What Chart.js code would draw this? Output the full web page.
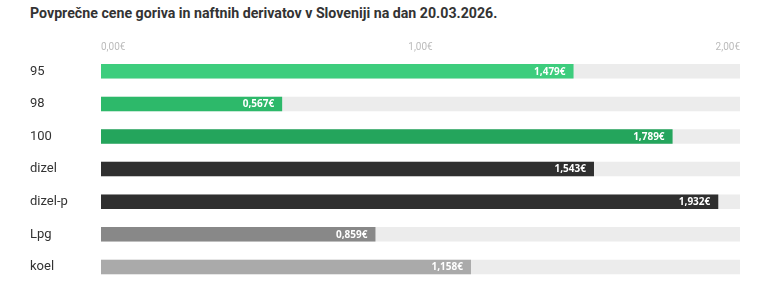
<!DOCTYPE html>
<html>
<head>
<meta charset="utf-8">
<script src="https://cdn.jsdelivr.net/npm/chart.js@4/dist/chart.umd.min.js"></script>
<style>
html,body{margin:0;padding:0;background:#fff;overflow:hidden;}
#wrap{position:relative;width:768px;height:282px;overflow:hidden;}
#title{position:absolute;left:30px;top:5px;font-family:Roboto,sans-serif;font-weight:bold;font-size:14.2px;color:#333;white-space:nowrap;}
#c{position:absolute;left:0;top:0;}
</style>
</head>
<body>
<div id="wrap">
<div id="title">Povprečne cene goriva in naftnih derivatov v Sloveniji na dan 20.03.2026.</div>
<canvas id="c" width="768" height="291"></canvas>
</div>
<script>
const categories = ["95", "98", "100", "dizel", "dizel-p", "Lpg", "koel"];
const prices = [1.479, 0.567, 1.789, 1.543, 1.932, 0.859, 1.158];
const barColors = ["#3dcd7d", "#2db96a", "#24a55c", "#2f2f2f", "#2f2f2f", "#888888", "#aaaaaa"];
const axisMax = 2;
const trackValues = categories.map(() => axisMax);
const tickValues = [0, 1, 2];

const fmt = v => v.toFixed(3).replace('.', ',') + '€';
const fmtTick = v => v.toFixed(2).replace('.', ',') + '€';

const valueLabels = {
  id: 'valueLabels',
  afterDatasetsDraw(chart) {
    const ctx = chart.ctx;
    const meta = chart.getDatasetMeta(0);
    ctx.save();
    ctx.font = 'bold 10px "Open Sans", sans-serif';
    ctx.fillStyle = '#ffffff';
    ctx.textAlign = 'right';
    ctx.textBaseline = 'middle';
    meta.data.forEach((el, i) => {
      ctx.fillText(fmt(prices[i]), el.x - 8, el.y + 0.5);
    });
    ctx.restore();
  }
};

new Chart(document.getElementById('c'), {
  type: 'bar',
  data: {
    labels: categories,
    datasets: [
      { data: prices, backgroundColor: barColors, grouped: false, barPercentage: 0.445, categoryPercentage: 1 },
      { data: trackValues, backgroundColor: '#ececec', grouped: false, barPercentage: 0.445, categoryPercentage: 1 }
    ]
  },
  options: {
    indexAxis: 'y',
    responsive: false,
    animation: false,
    layout: { padding: { left: 30, right: 28, top: 38, bottom: 0 } },
    plugins: { legend: { display: false }, tooltip: { enabled: false } },
    scales: {
      x: {
        position: 'top',
        min: 0, max: axisMax,
        afterBuildTicks: s => { s.ticks = tickValues.map(v => ({ value: v })); },
        afterFit: s => { s.height = 17; },
        grid: { display: false },
        border: { display: false },
        ticks: {
          align: 'inner',
          padding: -6,
          color: '#bbbbbb',
          font: { family: 'Roboto', size: 10 },
          callback: v => fmtTick(v)
        }
      },
      y: {
        grid: { display: false },
        border: { display: false },
        afterFit: s => { s.width = 71; },
        ticks: {
          crossAlign: 'far',
          color: '#333333',
          padding: 0,
          font: { family: 'Roboto', size: 13 }
        }
      }
    }
  },
  plugins: [valueLabels]
});
</script>
</body>
</html>
